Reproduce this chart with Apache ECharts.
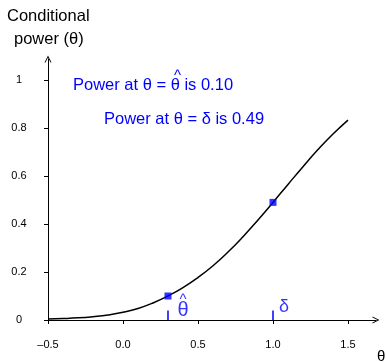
<!DOCTYPE html>
<html>
<head>
<meta charset="utf-8">
<script src="https://cdn.jsdelivr.net/npm/echarts@6/dist/echarts.min.js"></script>
<style>
  html, body { margin: 0; padding: 0; background: #fff; }
  #chart { width: 386px; height: 362px; }
</style>
</head>
<body>
<div id="chart"></div>
<script>
// Conditional power as a function of the true effect theta
const thetaValues = [-0.5, -0.4, -0.3, -0.2, -0.1, 0.0, 0.1, 0.2, 0.3, 0.4, 0.5,
                     0.6, 0.7, 0.8, 0.9, 1.0, 1.1, 1.2, 1.3, 1.4, 1.5];
const powerValues = [0.004, 0.006, 0.009, 0.014, 0.021, 0.032, 0.048, 0.071, 0.100, 0.135, 0.177,
                     0.226, 0.283, 0.347, 0.417, 0.490, 0.565, 0.639, 0.710, 0.775, 0.833];

// Highlighted points: observed estimate and design effect
const markTheta = [0.3, 1.0];
const markPower = [0.10, 0.49];
const markSymbols = ['θ', 'δ'];
const markSymbolSize = [20, 18];

const xTicks = [-0.5, 0.0, 0.5, 1.0, 1.5];
const yTicks = [0, 0.2, 0.4, 0.6, 0.8, 1];

const BLUE = '#0000ff';
const FONT = 'Liberation Sans, Arial, sans-serif';

const curve = thetaValues.map((t, i) => [t, powerValues[i]]);
const markers = markTheta.map((t, i) => [t, markPower[i]]);

const chevron = 'path://M0,10 L5,0 L10,10 L8.6,10 L5,2.8 L1.4,10 Z';

const chart = echarts.init(document.getElementById('chart'), null, { renderer: 'canvas' });

const tickSeries = markTheta.map(t => ({
  type: 'line',
  data: [[t, 0], [t, 0.04]],
  showSymbol: false,
  silent: true,
  z: 5,
  lineStyle: { color: BLUE, width: 1.5 }
}));

chart.setOption({
  animation: false,
  grid: { left: 48, right: 10, top: 59, bottom: 42 },
  xAxis: {
    type: 'value',
    min: -0.5,
    max: 1.6867,
    splitLine: { show: false },
    axisLine: {
      onZero: false,
      lineStyle: { color: '#000', width: 1 },
      symbol: ['none', chevron],
      symbolSize: [7, 7]
    },
    axisTick: { show: true, length: 4, customValues: xTicks, lineStyle: { color: '#000' } },
    axisLabel: {
      customValues: xTicks,
      margin: 19,
      color: '#000',
      fontFamily: FONT,
      fontSize: 11,
      formatter: v => v.toFixed(1).replace('-', '–')
    }
  },
  yAxis: {
    type: 'value',
    min: 0,
    max: 1.0875,
    splitLine: { show: false },
    axisLine: {
      onZero: false,
      lineStyle: { color: '#000', width: 1 },
      symbol: ['none', chevron],
      symbolSize: [7, 7]
    },
    axisTick: { show: true, length: 4, customValues: yTicks, lineStyle: { color: '#000' } },
    axisLabel: {
      customValues: yTicks,
      margin: 29,
      align: 'center',
      color: '#000',
      fontFamily: FONT,
      fontSize: 11,
      formatter: v => String(v)
    }
  },
  series: [
    {
      type: 'line',
      data: curve,
      smooth: true,
      showSymbol: false,
      silent: true,
      z: 3,
      lineStyle: { color: '#000', width: 1.5 }
    },
    ...tickSeries,
    {
      type: 'scatter',
      data: markers,
      symbol: 'rect',
      symbolSize: 7,
      z: 6,
      itemStyle: { color: BLUE }
    },
    {
      // symbols written just above the axis next to each blue tick
      type: 'scatter',
      data: markTheta.map((t, i) => ({
        value: [t, 0, markSymbols[i]],
        label: { fontSize: markSymbolSize[i] }
      })),
      symbolSize: 0,
      silent: true,
      z: 6,
      label: {
        show: true,
        position: 'inside',
        formatter: p => p.value[2],
        color: BLUE,
        fontFamily: FONT
      },
      labelLayout: (params) => {
        const i = params.dataIndex;
        return i === 0 ? { dx: 15, dy: -10 } : { dx: 11, dy: -13 };
      }
    },
    {
      // hat over the estimate symbol
      type: 'scatter',
      data: [[markTheta[0], 0, '^']],
      symbolSize: 0,
      silent: true,
      z: 6,
      label: {
        show: true,
        position: 'inside',
        formatter: '^',
        color: BLUE,
        fontFamily: FONT,
        fontSize: 15
      },
      labelLayout: { dx: 15, dy: -20 }
    }
  ],
  graphic: [
    { type: 'text', left: 7, top: 8, style: { text: 'Conditional', font: '16.5px ' + FONT, fill: '#000' } },
    { type: 'text', left: 14, top: 31, style: { text: 'power (θ)', font: '16.5px ' + FONT, fill: '#000' } },
    { type: 'text', left: 73, top: 77, style: { text: 'Power at θ = θ is ' + markPower[0].toFixed(2), font: '16.5px ' + FONT, fill: BLUE } },
    { type: 'text', left: 174, top: 68, style: { text: '^', font: '15px ' + FONT, fill: BLUE } },
    { type: 'text', left: 104, top: 111, style: { text: 'Power at θ = δ is ' + markPower[1].toFixed(2), font: '16.5px ' + FONT, fill: BLUE } },
    { type: 'text', left: 377, top: 349, style: { text: 'θ', font: '15px ' + FONT, fill: '#000' } }
  ]
});
</script>
</body>
</html>
